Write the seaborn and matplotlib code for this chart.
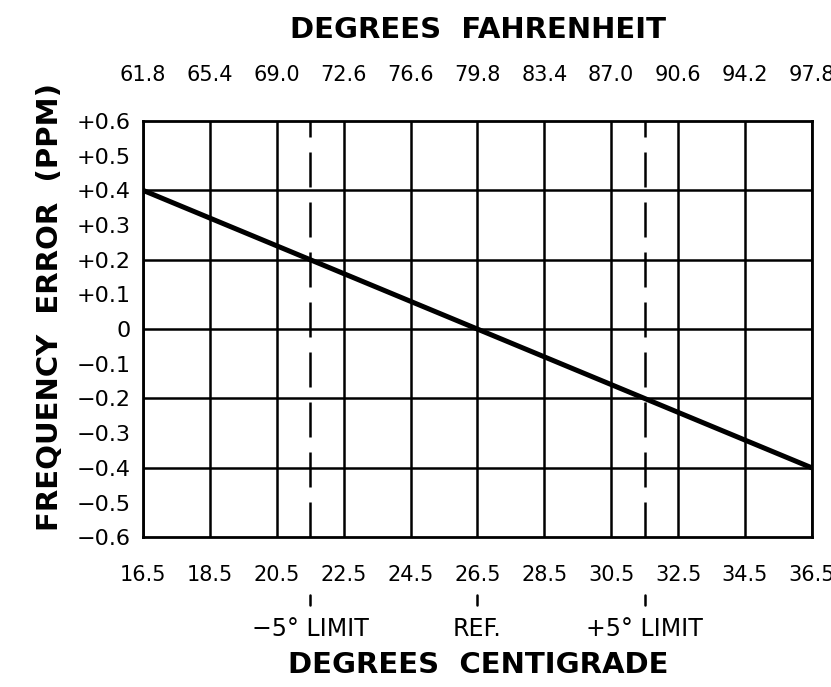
import numpy as np
import pandas as pd
import matplotlib
matplotlib.use("Agg")
import matplotlib.pyplot as plt
import matplotlib.transforms as mtransforms
import seaborn as sns

sns.set_style("white")
plt.rcParams['font.family'] = ['DejaVu Sans']
plt.rcParams['text.color'] = 'black'
plt.rcParams['xtick.color'] = 'black'
plt.rcParams['ytick.color'] = 'black'

# Data
celsius_ticks = [16.5, 18.5, 20.5, 22.5, 24.5, 26.5, 28.5, 30.5, 32.5, 34.5, 36.5]
fahrenheit_labels = ["61.8", "65.4", "69.0", "72.6", "76.6", "79.8",
                     "83.4", "87.0", "90.6", "94.2", "97.8"]
error_ticks = [0.6, 0.5, 0.4, 0.3, 0.2, 0.1, 0.0, -0.1, -0.2, -0.3, -0.4, -0.5, -0.6]
error_labels = ["+0.6", "+0.5", "+0.4", "+0.3", "+0.2", "+0.1", "0",
                "\u22120.1", "\u22120.2", "\u22120.3", "\u22120.4", "\u22120.5", "\u22120.6"]
grid_y = [0.4, 0.2, 0.0, -0.2, -0.4]

temp_c = [16.5, 21.5, 26.5, 31.5, 36.5]
freq_error = [0.4, 0.2, 0.0, -0.2, -0.4]

limit_temps = [21.5, 26.5, 31.5]
limit_labels = ["\u22125\u00b0 LIMIT", "REF.", "+5\u00b0 LIMIT"]
dashed_temps = [21.5, 31.5]

df = pd.DataFrame({"temp": temp_c, "error": freq_error})

fig = plt.figure(figsize=(8.31, 6.87), dpi=100)
ax = fig.add_axes([0.172, 0.218, 0.805, 0.606])

# grid
for x in celsius_ticks:
    ax.axvline(x, color="black", lw=1.8, zorder=1)
for y in grid_y:
    ax.axhline(y, color="black", lw=1.8, zorder=1)
for x in dashed_temps:
    ax.axvline(x, color="black", lw=1.8, ls=(0, (14, 6)), zorder=1)

sns.lineplot(data=df, x="temp", y="error", color="black", lw=3.6, ax=ax, zorder=3)

ax.set_xlim(16.5, 36.5)
ax.set_ylim(-0.6, 0.6)
ax.set_xticks(celsius_ticks)
ax.set_xticklabels(["%.1f" % t for t in celsius_ticks], fontsize=15)
ax.set_yticks(error_ticks)
ax.set_yticklabels(error_labels, fontsize=16)
ax.tick_params(axis="x", length=0, pad=20)
ax.tick_params(axis="y", length=0, pad=9)
ax.set_xlabel("")
ax.set_ylabel("")
for s in ax.spines.values():
    s.set_color("black")
    s.set_linewidth(2)

# top Fahrenheit axis
ax2 = ax.twiny()
ax2.set_xlim(ax.get_xlim())
ax2.set_xticks(celsius_ticks)
ax2.set_xticklabels(fahrenheit_labels, fontsize=15)
ax2.tick_params(axis="x", length=0, pad=26)
for s in ax2.spines.values():
    s.set_visible(False)

# limit markers under the x axis
trans = mtransforms.blended_transform_factory(ax.transData, ax.transAxes)
for x, lab in zip(limit_temps, limit_labels):
    ax.plot([x, x], [-0.139, -0.163], color="black", lw=1.8,
            transform=trans, clip_on=False)
    ax.text(x, -0.22, lab, transform=trans, ha="center", va="center", fontsize=17)

fig.text(0.575, 0.956, "DEGREES  FAHRENHEIT", ha="center", va="center",
         fontsize=21, fontweight="bold")
fig.text(0.575, 0.032, "DEGREES  CENTIGRADE", ha="center", va="center",
         fontsize=21, fontweight="bold")
fig.text(0.06, 0.553, "FREQUENCY  ERROR  (PPM)", ha="center", va="center",
         rotation=90, fontsize=21, fontweight="bold")

fig.savefig("out.png", dpi=100, facecolor="white")
